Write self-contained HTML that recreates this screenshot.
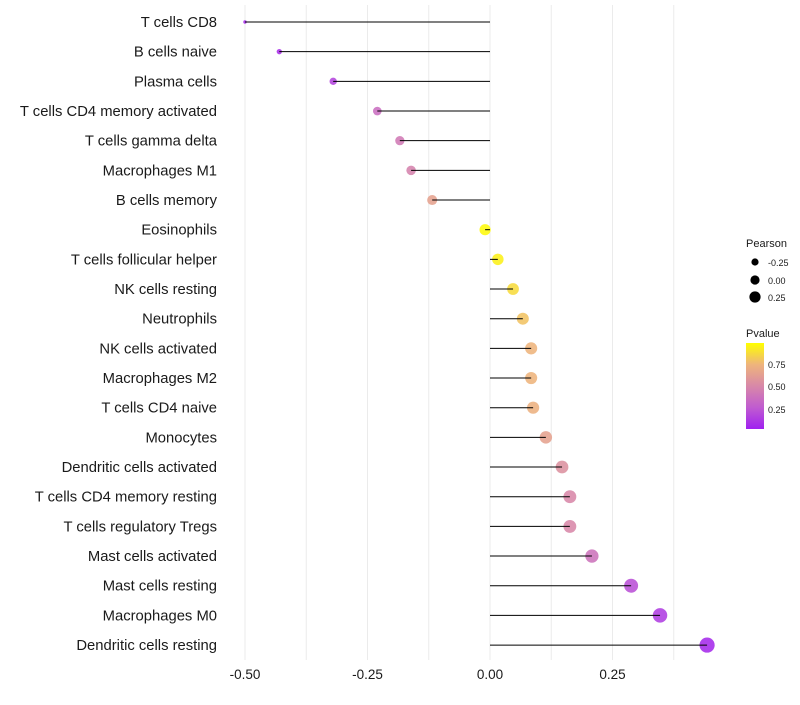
<!DOCTYPE html>
<html><head><meta charset="utf-8"><style>
body{margin:0;background:#fff;font-family:"Liberation Sans",Arial,sans-serif}
</style></head><body>
<svg id="c" width="800" height="700" xmlns="http://www.w3.org/2000/svg">
<defs><linearGradient id="pg" x1="0" y1="1" x2="0" y2="0">
<stop offset="0" stop-color="#a020f0"/><stop offset="0.25" stop-color="#c05cd0"/><stop offset="0.5" stop-color="#d888a8"/><stop offset="0.75" stop-color="#eeb47c"/><stop offset="1" stop-color="#ffff00"/></linearGradient></defs>
<g id="grid"></g><g id="marks"></g><g id="labels"></g><g id="legend"></g>
</svg>
<script>
const categories=["T cells CD8","B cells naive","Plasma cells","T cells CD4 memory activated","T cells gamma delta","Macrophages M1","B cells memory","Eosinophils","T cells follicular helper","NK cells resting","Neutrophils","NK cells activated","Macrophages M2","T cells CD4 naive","Monocytes","Dendritic cells activated","T cells CD4 memory resting","T cells regulatory  Tregs ","Mast cells activated","Mast cells resting","Macrophages M0","Dendritic cells resting"];
const pearson=[-0.5,-0.43,-0.32,-0.23,-0.184,-0.161,-0.118,-0.01,0.016,0.047,0.067,0.084,0.084,0.088,0.114,0.147,0.163,0.163,0.208,0.288,0.347,0.443];
const pvalue=[0.04,0.06,0.15,0.35,0.42,0.47,0.65,0.98,0.95,0.88,0.8,0.75,0.75,0.73,0.65,0.55,0.5,0.5,0.38,0.2,0.12,0.04];
const xTicks=[-0.5,-0.25,0,0.25];
const xTickLabels=["-0.50","-0.25","0.00","0.25"];
const NS="http://www.w3.org/2000/svg";
const x=v=>490+v*490;
const y=i=>22+i*29.67;
function mk(t,a,p){const e=document.createElementNS(NS,t);for(const k in a)e.setAttribute(k,a[k]);p.appendChild(e);return e;}
const stops=[[0,[160,32,240]],[0.25,[192,92,208]],[0.5,[216,136,168]],[0.75,[238,180,124]],[1,[255,255,0]]];
function col(p){for(let i=1;i<stops.length;i++){if(p<=stops[i][0]){const a=stops[i-1],b=stops[i],t=(p-a[0])/(b[0]-a[0]);return 'rgb('+a[1].map((c,j)=>Math.round(c+(b[1][j]-c)*t)).join(',')+')';}}return 'rgb(255,255,0)';}
const rad=v=>Math.sqrt(Math.max(2.5,32+58*v));
const g=document.getElementById('grid'),m=document.getElementById('marks'),l=document.getElementById('labels');
for(let v=-0.5;v<=0.4;v+=0.125){const e=mk('line',{x1:x(v),x2:x(v),y1:5,y2:660,stroke:'#ebebeb','stroke-width':1},g);

}
categories.forEach((c,i)=>{
const p=mk('circle',{cx:x(pearson[i]),cy:y(i),r:rad(pearson[i]),fill:col(pvalue[i]),opacity:0.88},m);


const s=mk('line',{x1:x(0),x2:x(pearson[i]),y1:y(i),y2:y(i),stroke:'#000','stroke-width':1},m);


const t=mk('text',{x:217,y:y(i)+5,'text-anchor':'end','font-size':14.8,fill:'#1a1a1a'},l);t.textContent=c;


});
xTicks.forEach((v,i)=>{const t=mk('text',{x:x(v),y:679,'text-anchor':'middle','font-size':13.5,fill:'#1a1a1a'},l);t.textContent=xTickLabels[i];

});
</script>
<svg style="position:absolute;left:0;top:0" width="800" height="700">
<text x="746" y="247" font-size="11" fill="#1a1a1a">Pearson</text>
<circle cx="755" cy="262" r="3.6" fill="#000"/>
<text x="768" y="266" font-size="9" fill="#1a1a1a">-0.25</text>
<circle cx="755" cy="280" r="4.6" fill="#000"/>
<text x="768" y="284" font-size="9" fill="#1a1a1a">0.00</text>
<circle cx="755" cy="297" r="5.6" fill="#000"/>
<text x="768" y="301" font-size="9" fill="#1a1a1a">0.25</text>
<text x="746" y="337" font-size="11" fill="#1a1a1a">Pvalue</text>
<rect x="746" y="343" width="18" height="86" fill="url(#pg)"/>
<text x="768" y="368" font-size="9" fill="#1a1a1a">0.75</text>
<text x="768" y="390" font-size="9" fill="#1a1a1a">0.50</text>
<text x="768" y="413" font-size="9" fill="#1a1a1a">0.25</text>
</svg>
</body></html>
